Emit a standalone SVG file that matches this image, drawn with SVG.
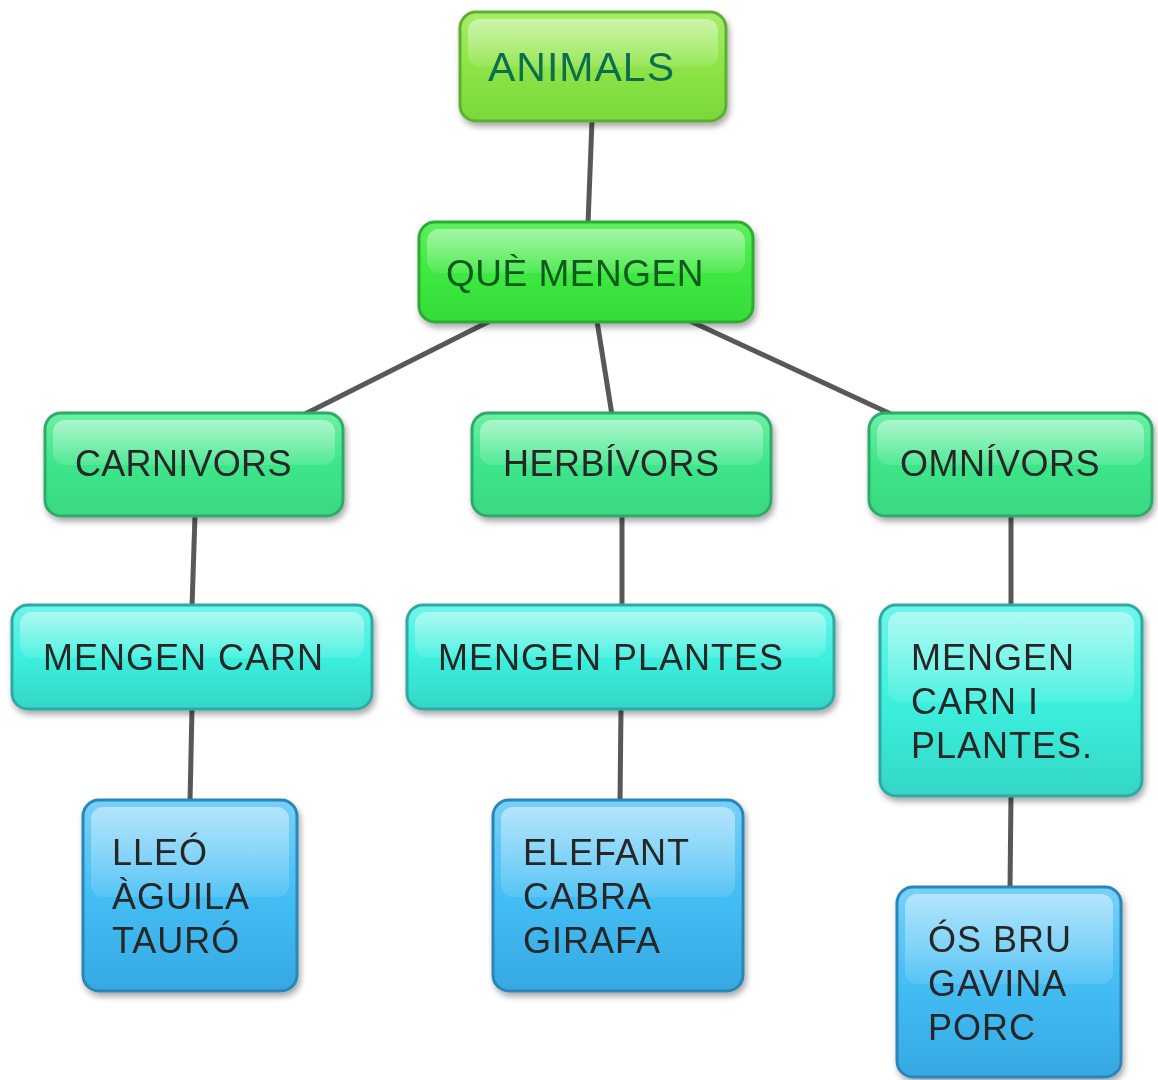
<svg xmlns="http://www.w3.org/2000/svg" width="1158" height="1080" viewBox="0 0 1158 1080">
<style>
.t{font-family:"Liberation Sans",Arial,sans-serif;font-size:36px;fill:#262626;letter-spacing:1px}
.box{stroke-width:3}
.hl{fill:url(#hl)}
.c line{stroke:#585858;stroke-width:5;stroke-linecap:butt}
</style>
<defs>
<filter id="sh" x="-10%" y="-10%" width="125%" height="130%">
<feGaussianBlur in="SourceAlpha" stdDeviation="3"/>
<feOffset dx="2" dy="4"/>
<feComponentTransfer><feFuncA type="linear" slope="0.35"/></feComponentTransfer>
<feMerge><feMergeNode/><feMergeNode in="SourceGraphic"/></feMerge>
</filter>
<linearGradient id="hl" x1="0" y1="0" x2="0" y2="1">
<stop offset="0" stop-color="#fff" stop-opacity="0.45"/>
<stop offset="1" stop-color="#fff" stop-opacity="0.1"/>
</linearGradient>
<linearGradient id="g1" x1="0" y1="0" x2="0" y2="1">
<stop offset="0" stop-color="#a6ee6a"/><stop offset="0.5" stop-color="#8de446"/><stop offset="1" stop-color="#7ad83a"/>
</linearGradient>
<linearGradient id="g2" x1="0" y1="0" x2="0" y2="1">
<stop offset="0" stop-color="#5ef060"/><stop offset="0.5" stop-color="#3ee840"/><stop offset="1" stop-color="#34dc3a"/>
</linearGradient>
<linearGradient id="g3" x1="0" y1="0" x2="0" y2="1">
<stop offset="0" stop-color="#6cf0a4"/><stop offset="0.5" stop-color="#3ee68a"/><stop offset="1" stop-color="#3ad882"/>
</linearGradient>
<linearGradient id="g4" x1="0" y1="0" x2="0" y2="1">
<stop offset="0" stop-color="#6ef6ea"/><stop offset="0.5" stop-color="#3cf0de"/><stop offset="1" stop-color="#34d6c6"/>
</linearGradient>
<linearGradient id="g5" x1="0" y1="0" x2="0" y2="1">
<stop offset="0" stop-color="#78d0fa"/><stop offset="0.5" stop-color="#44bef4"/><stop offset="1" stop-color="#36a8e2"/>
</linearGradient>
</defs>
<rect width="1158" height="1080" fill="#fff"/>
<g class="c" id="connectors">
<line x1="592" y1="120" x2="588" y2="224"/>
<line x1="490" y1="321" x2="303" y2="415"/>
<line x1="597" y1="321" x2="612" y2="415"/>
<line x1="690" y1="321" x2="893" y2="415"/>
<line x1="195" y1="515" x2="192" y2="607"/>
<line x1="192" y1="708" x2="190" y2="802"/>
<line x1="622" y1="515" x2="622" y2="607"/>
<line x1="621" y1="708" x2="620" y2="802"/>
<line x1="1011" y1="515" x2="1011" y2="607"/>
<line x1="1011" y1="795" x2="1010" y2="889"/>
</g>
<g id="n-animals" filter="url(#sh)">
<rect class="box" x="460" y="12" width="266" height="109" rx="16" fill="url(#g1)" stroke="#5fae30"/>
<rect class="hl" x="468" y="19" width="250" height="48" rx="12"/>
<text class="t" x="488" y="81" style="font-size:41px;fill:#0d6e4e">ANIMALS</text>
</g>
<g id="n-que" filter="url(#sh)">
<rect class="box" x="419" y="222" width="334" height="100" rx="16" fill="url(#g2)" stroke="#2eab32"/>
<rect class="hl" x="427" y="229" width="318" height="44" rx="12"/>
<text class="t" x="446" y="286" style="font-size:37px;fill:#0c5a1c;letter-spacing:0.5px">QUÈ MENGEN</text>
</g>
<g id="n-carnivors" filter="url(#sh)">
<rect class="box" x="45" y="413" width="298" height="103" rx="16" fill="url(#g3)" stroke="#2eaa6a"/>
<rect class="hl" x="53" y="420" width="282" height="45" rx="12"/>
<text class="t" x="75" y="476" style="letter-spacing:0.3px">CARNIVORS</text>
</g>
<g id="n-herbivors" filter="url(#sh)">
<rect class="box" x="472" y="413" width="299" height="103" rx="16" fill="url(#g3)" stroke="#2eaa6a"/>
<rect class="hl" x="480" y="420" width="283" height="45" rx="12"/>
<text class="t" x="503" y="476" style="letter-spacing:0.5px">HERBÍVORS</text>
</g>
<g id="n-omnivors" filter="url(#sh)">
<rect class="box" x="869" y="413" width="283" height="103" rx="16" fill="url(#g3)" stroke="#2eaa6a"/>
<rect class="hl" x="877" y="420" width="267" height="45" rx="12"/>
<text class="t" x="900" y="476" style="letter-spacing:0.5px">OMNÍVORS</text>
</g>
<g id="n-mengen-carn" filter="url(#sh)">
<rect class="box" x="12" y="605" width="360" height="104" rx="16" fill="url(#g4)" stroke="#2eaaa2"/>
<rect class="hl" x="20" y="612" width="344" height="46" rx="12"/>
<text class="t" x="43" y="670">MENGEN CARN</text>
</g>
<g id="n-mengen-plantes" filter="url(#sh)">
<rect class="box" x="407" y="605" width="427" height="104" rx="16" fill="url(#g4)" stroke="#2eaaa2"/>
<rect class="hl" x="415" y="612" width="411" height="46" rx="12"/>
<text class="t" x="438" y="670">MENGEN PLANTES</text>
</g>
<g id="n-mengen-carn-plantes" filter="url(#sh)">
<rect class="box" x="880" y="605" width="262" height="191" rx="16" fill="url(#g4)" stroke="#2eaaa2"/>
<rect class="hl" x="888" y="612" width="246" height="90" rx="12"/>
<text class="t" x="911" y="670">MENGEN</text>
<text class="t" x="911" y="714">CARN I</text>
<text class="t" x="911" y="758">PLANTES.</text>
</g>
<g id="n-lleo" filter="url(#sh)">
<rect class="box" x="83" y="800" width="214" height="191" rx="16" fill="url(#g5)" stroke="#2a86b6"/>
<rect class="hl" x="91" y="807" width="198" height="90" rx="12"/>
<text class="t" x="112" y="865">LLEÓ</text>
<text class="t" x="112" y="909">ÀGUILA</text>
<text class="t" x="112" y="953">TAURÓ</text>
</g>
<g id="n-elefant" filter="url(#sh)">
<rect class="box" x="493" y="800" width="250" height="191" rx="16" fill="url(#g5)" stroke="#2a86b6"/>
<rect class="hl" x="501" y="807" width="234" height="90" rx="12"/>
<text class="t" x="523" y="865">ELEFANT</text>
<text class="t" x="523" y="909">CABRA</text>
<text class="t" x="523" y="953">GIRAFA</text>
</g>
<g id="n-os" filter="url(#sh)">
<rect class="box" x="897" y="887" width="224" height="190" rx="16" fill="url(#g5)" stroke="#2a86b6"/>
<rect class="hl" x="905" y="894" width="208" height="90" rx="12"/>
<text class="t" x="928" y="952">ÓS BRU</text>
<text class="t" x="928" y="996">GAVINA</text>
<text class="t" x="928" y="1040">PORC</text>
</g>
</svg>
